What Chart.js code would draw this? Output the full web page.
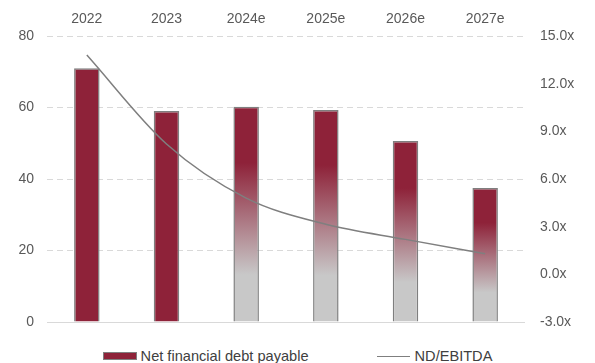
<!DOCTYPE html>
<html>
<head>
<meta charset="utf-8">
<script src="https://cdn.jsdelivr.net/npm/chart.js@4/dist/chart.umd.min.js"></script>
<style>
  html, body { margin: 0; padding: 0; background: #fff; }
  #wrap { width: 595px; height: 363px; }
  #box { position: relative; width: 595px; height: 340px; }
  #legend {
    display: flex; justify-content: center; align-items: center;
    height: 23px; padding-top: 9px; box-sizing: border-box;
    font: 14.6px "Liberation Sans", Arial, sans-serif; color: #404040;
  }
  .item { display: flex; align-items: center; }
  .swatch { width: 32px; height: 6px; background: #8e2239; border: 1px solid #7f7f7f; margin-right: 4px; }
  .stroke { width: 33px; height: 0; border-top: 1.5px solid #7f7f7f; margin-right: 5px; }
</style>
</head>
<body>
<div id="wrap">
  <div id="box"><canvas id="debtChart"></canvas></div>
  <div id="legend">
    <div class="item" style="margin-right:68px"><span class="swatch"></span>Net financial debt payable</div>
    <div class="item"><span class="stroke"></span>ND/EBITDA</div>
  </div>
</div>
<script>
var years = ['2022', '2023', '2024e', '2025e', '2026e', '2027e'];
var netDebt = [71.0, 59.0, 60.2, 59.3, 50.6, 37.5];
var ndEbitda = [13.8, 8.2, 4.8, 3.15, 2.2, 1.3];

var RED = '#8e2239';
var GREY = '#c8c8c8';
var tickFont = { family: '"Liberation Sans", Arial, sans-serif', size: 14 };

// estimate years fade from red into grey towards the base
function barFill(context) {
    var i = context.dataIndex;
    var chart = context.chart;
    if (context.type !== 'data' || years[i].indexOf('e') < 0 || !chart.scales.y) return RED;
    var top = chart.scales.y.getPixelForValue(netDebt[i]);
    var bottom = chart.scales.y.getPixelForValue(0);
    if (!isFinite(top) || !isFinite(bottom) || top === bottom) return RED;
    var g = chart.ctx.createLinearGradient(0, top, 0, bottom);
    g.addColorStop(0, RED);
    g.addColorStop(0.26, RED);
    g.addColorStop(0.78, GREY);
    g.addColorStop(1, GREY);
    return g;
}

// fixed axis widths; label padding shouldn't eat into the plot height
function fixWidth(w) {
    return function(scale) {
        scale.width = w;
        scale.paddingTop = 8;
        scale.paddingBottom = 8;
    };
}

var ctx = document.getElementById('debtChart').getContext('2d');

var debtChart = new Chart(ctx, {
    data: {
        labels: years,
        datasets: [{
            type: 'line',
            label: 'ND/EBITDA',
            data: ndEbitda,
            yAxisID: 'y1',
            borderColor: '#7f7f7f',
            borderWidth: 1.5,
            pointRadius: 0,
            cubicInterpolationMode: 'monotone',
            order: 0
        }, {
            type: 'bar',
            label: 'Net financial debt payable',
            data: netDebt,
            yAxisID: 'y',
            backgroundColor: barFill,
            borderColor: '#7f7f7f',
            borderWidth: 1.5,
            barPercentage: 0.32,
            categoryPercentage: 1,
            order: 1
        }]
    },
    options: {
        responsive: true,
        maintainAspectRatio: false,
        animation: false,
        layout: { padding: { bottom: 18 } },
        plugins: {
            legend: { display: false },
            tooltip: { enabled: false }
        },
        scales: {
            x: {
                position: 'top',
                grid: { display: false },
                border: { display: false },
                ticks: { color: '#595959', font: tickFont, padding: 0 },
                afterFit: function(scale) { scale.height = 36; }
            },
            y: {
                position: 'left',
                min: 0,
                max: 80,
                ticks: { stepSize: 20, color: '#595959', font: tickFont, padding: 13 },
                grid: { color: '#d9d9d9', lineWidth: 1, drawTicks: false },
                border: {
                    display: false,
                    dash: function(c) { return c.tick && c.tick.value === 0 ? [] : [6, 4]; }
                },
                afterFit: fixWidth(47)
            },
            y1: {
                position: 'right',
                min: -3,
                max: 15,
                ticks: {
                    stepSize: 3,
                    color: '#595959',
                    font: tickFont,
                    padding: 15,
                    callback: function(v) { return v.toFixed(1) + 'x'; }
                },
                grid: { display: false, drawTicks: false },
                border: { display: false },
                afterFit: fixWidth(70)
            }
        }
    }
});
</script>
</body>
</html>
